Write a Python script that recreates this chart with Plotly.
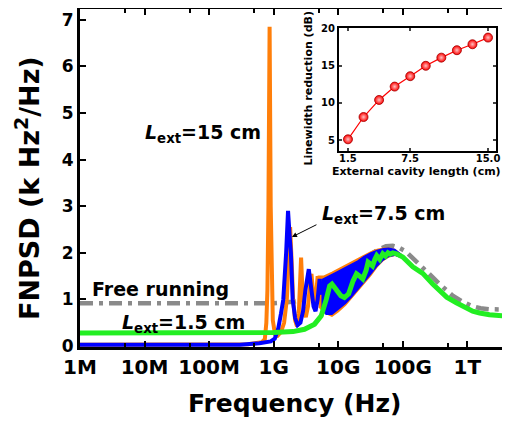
import plotly.graph_objects as go
import math

# ---------------- data ----------------
# Free running (gray dash-dot)
gray_f = [1e6, 1e9, 2e9, 4e9, 7e9, 10e9, 15e9, 20e9, 30e9, 40e9, 55e9, 70e9, 90e9,
          111e9, 164e9, 235e9, 373e9, 593e9, 846e9, 1.16e12, 1.6e12, 2.2e12, 4.3e12]
gray_v = [0.92, 0.92, 0.95, 1.03, 1.2, 1.35, 1.55, 1.7, 1.93, 2.06, 2.14, 2.15, 2.1,
          2.03, 1.82, 1.6, 1.33, 1.08, 0.95, 0.86, 0.81, 0.79, 0.78]

# L_ext = 15 cm (orange): resolved peaks
orange_f = [1e6, 1e8, 4e8, 6.5e8, 0.73e9, 0.77e9, 0.80e9, 0.83e9, 0.865e9, 0.90e9, 0.93e9,
            0.97e9, 1.05e9, 1.15e9, 1.3e9, 1.45e9, 1.6e9, 1.7e9, 1.8e9, 1.9e9, 2.0e9,
            2.15e9, 2.3e9, 2.45e9, 2.55e9, 2.66e9, 2.78e9, 2.95e9, 3.15e9, 3.4e9, 3.65e9,
            3.85e9, 4.05e9, 4.3e9, 4.55e9, 4.8e9, 5.1e9, 5.4e9]
orange_v = [0.03, 0.03, 0.04, 0.08, 0.15, 0.5, 1.2, 3.0, 6.85, 3.0, 1.2,
            0.55, 0.25, 0.22, 0.3, 0.5, 1.0, 1.8, 2.55, 1.8, 1.0,
            0.55, 0.42, 0.7, 1.2, 1.9, 1.25, 0.75, 0.62, 0.85, 1.3,
            1.55, 1.2, 0.85, 1.1, 1.5, 1.1, 0.9]
# L_ext = 15 cm dense oscillation envelope
orange_up_f = [4.8e9, 6e9, 8e9, 11e9, 15e9, 20e9, 25e9, 32e9, 40e9, 50e9, 60e9, 75e9, 95e9]
orange_up_v = [1.5, 1.5, 1.58, 1.68, 1.78, 1.87, 1.95, 2.02, 2.07, 2.1, 2.1, 2.07, 1.96]
orange_lo_f = [5e9, 6e9, 8e9, 10e9, 13e9, 16e9, 20e9, 25e9, 32e9, 40e9, 50e9, 60e9, 75e9, 95e9]
orange_lo_v = [0.85, 0.72, 0.64, 0.74, 0.88, 1.01, 1.18, 1.34, 1.52, 1.7, 1.84, 1.91, 1.95, 1.9]

# L_ext = 7.5 cm (blue): resolved peaks
blue_f = [1e6, 3e8, 6e8, 0.9e9, 1.04e9, 1.17e9, 1.3e9, 1.41e9, 1.56e9, 1.67e9, 1.78e9,
          1.85e9, 1.97e9, 2.15e9, 2.35e9, 2.6e9, 2.85e9, 3.1e9, 3.5e9, 3.85e9, 4.15e9,
          4.45e9, 4.8e9, 5.15e9, 5.5e9]
blue_v = [0.03, 0.03, 0.06, 0.1, 0.16, 0.36, 0.7, 1.0, 2.0, 2.9, 2.3,
          2.0, 1.0, 0.6, 0.45, 0.5, 0.75, 1.2, 1.65, 1.2, 0.85,
          0.75, 1.0, 1.44, 1.1]
# L_ext = 7.5 cm dense oscillation envelope
blue_up_f = [5.5e9, 7e9, 9e9, 12e9, 15e9, 20e9, 25e9, 32e9, 40e9, 50e9, 60e9, 75e9, 95e9]
blue_up_v = [1.42, 1.5, 1.57, 1.66, 1.73, 1.82, 1.92, 2.0, 2.05, 2.09, 2.1, 2.07, 1.96]
blue_lo_f = [5.5e9, 6.5e9, 8e9, 10e9, 13e9, 16e9, 20e9, 25e9, 32e9, 40e9, 50e9, 60e9, 75e9, 95e9]
blue_lo_v = [0.8, 0.68, 0.68, 0.78, 0.92, 1.05, 1.22, 1.37, 1.55, 1.72, 1.85, 1.92, 1.95, 1.9]

# L_ext = 1.5 cm (green)
green_f = [1e6, 1e8, 1e9, 2e9, 3e9, 4.3e9, 5.46e9, 6.53e9, 7.37e9, 8e9, 9.5e9, 11e9, 12.5e9,
           14.5e9, 17e9, 19.2e9, 21.5e9, 24e9, 27e9, 29e9, 31.5e9, 34e9, 37e9, 39.5e9,
           44e9, 49e9, 54e9, 59e9, 64e9, 70e9, 80e9, 100e9, 143e9, 204e9, 291e9, 373e9,
           479e9, 676e9, 846e9, 1.21e12, 1.55e12, 2.2e12, 4.3e12]
green_v = [0.28, 0.28, 0.29, 0.31, 0.36, 0.47, 0.65, 1.0, 1.29, 1.33, 1.2, 1.08, 1.04,
           1.12, 1.4, 1.55, 1.5, 1.44, 1.62, 1.8, 1.76, 1.72, 1.86, 1.94,
           1.86, 1.98, 1.93, 2.0, 1.97, 2.0, 1.98, 1.91, 1.7, 1.56, 1.33, 1.2,
           1.05, 0.93, 0.85, 0.75, 0.71, 0.67, 0.64]

# Inset: linewidth reduction vs external cavity length
inset_len = [1.5, 3.0, 4.5, 6.0, 7.5, 9.0, 10.5, 12.0, 13.5, 15.0]
inset_red = [5.1, 8.1, 10.4, 12.2, 13.6, 15.0, 16.1, 17.1, 17.9, 18.8]

x_tickvals = [1e6, 1e7, 1e8, 1e9, 1e10, 1e11, 1e12]
x_ticktext = ["1M", "10M", "100M", "1G", "10G", "100G", "1T"]
x_minor = [5e6, 5e7, 5e8, 5e9, 5e10, 5e11, 5e12]
y_tickvals = [0, 1, 2, 3, 4, 5, 6, 7]
inset_xticks = [1.5, 7.5, 15.0]
inset_xtext = ["1.5", "7.5", "15.0"]
inset_yticks = [5, 10, 15, 20]

# ---------------- colours ----------------
GRAY = "#8a8a8a"
ORANGE = "#FF7F0A"
BLUE = "#0000FF"
GREEN = "#22EE22"
RED = "#FF0000"
FONT = "DejaVu Sans"

fig = go.Figure()

fig.add_trace(go.Scatter(x=gray_f, y=gray_v, mode="lines",
                         line=dict(color=GRAY, width=4.5, dash="13px,6px,4px,6px"),
                         hoverinfo="skip"))

# orange band + line
fig.add_trace(go.Scatter(x=orange_up_f + orange_lo_f[::-1], y=orange_up_v + orange_lo_v[::-1],
                         mode="lines", fill="toself", fillcolor=ORANGE,
                         line=dict(color=ORANGE, width=1.5), hoverinfo="skip"))
fig.add_trace(go.Scatter(x=orange_f, y=orange_v, mode="lines",
                         line=dict(color=ORANGE, width=4), hoverinfo="skip"))

# blue band + line
fig.add_trace(go.Scatter(x=blue_up_f + blue_lo_f[::-1], y=blue_up_v + blue_lo_v[::-1],
                         mode="lines", fill="toself", fillcolor=BLUE,
                         line=dict(color=BLUE, width=1.5), hoverinfo="skip"))
fig.add_trace(go.Scatter(x=blue_f, y=blue_v, mode="lines",
                         line=dict(color=BLUE, width=4), hoverinfo="skip"))

# green
fig.add_trace(go.Scatter(x=green_f, y=green_v, mode="lines",
                         line=dict(color=GREEN, width=5), hoverinfo="skip"))

# inset
fig.add_trace(go.Scatter(x=inset_len, y=inset_red, mode="lines+markers", xaxis="x2", yaxis="y2",
                         line=dict(color=RED, width=1.2),
                         marker=dict(size=9, color=RED, line=dict(color="#A00000", width=0.8),
                                     gradient=dict(type="radial", color="#FFC0C0")),
                         hoverinfo="skip"))

axis_common = dict(showline=True, linewidth=3, linecolor="black", mirror="ticks",
                   ticks="inside", tickwidth=2, tickcolor="black", showgrid=False,
                   zeroline=False, automargin=False)

inset_common = dict(showline=True, linewidth=2, linecolor="black", mirror="ticks",
                    ticks="inside", ticklen=3, tickwidth=1.5, showgrid=False, zeroline=False,
                    automargin=False,
                    tickfont=dict(family=FONT, size=10, color="black", weight="bold"))

# the page shows the figure offset by the default 8px body margin, so the
# margins below are shifted accordingly
fig.update_layout(
    width=510, height=424,
    margin=dict(l=72, r=10, t=1, b=85, autoexpand=False),
    paper_bgcolor="white", plot_bgcolor="white",
    showlegend=False,
    xaxis=dict(type="log", range=[6, 12.63], tickmode="array", tickvals=x_tickvals,
               ticktext=x_ticktext, ticklen=6,
               minor=dict(tickmode="array", tickvals=x_minor, ticks="inside", ticklen=4,
                          tickwidth=2, tickcolor="black"),
               tickfont=dict(family=FONT, size=20, color="black", weight="bold"),
               **axis_common),
    yaxis=dict(range=[-0.02, 7.23], tickmode="array", tickvals=y_tickvals, ticklen=6,
               tickfont=dict(family=FONT, size=17, color="black", weight="bold"),
               **axis_common),
    xaxis2=dict(domain=[0.605, 0.972], anchor="y2", range=[0.63, 15.77],
                tickmode="array", tickvals=inset_xticks, ticktext=inset_xtext,
                ticklabelstandoff=-3, **inset_common),
    yaxis2=dict(domain=[0.580, 0.944], anchor="x2", range=[3.53, 20.1],
                tickmode="array", tickvals=inset_yticks, **inset_common),
)

def lab(text, x, y, size=19, **kw):
    fig.add_annotation(text=text, x=x, y=y, showarrow=False,
                       font=dict(family=FONT, size=size, color="black", weight="bold"), **kw)

# axis titles
lab("FNPSD (k Hz<sup>2</sup>/Hz)", -0.124, 0.47, size=27, xref="paper", yref="paper",
    textangle=-90, xanchor="center", yanchor="middle")
lab("Frequency (Hz)", 0.5, -0.168, size=25, xref="paper", yref="paper",
    xanchor="center", yanchor="middle")
# inset titles
lab("External cavity length (cm)", 0.787, 0.518, size=11, xref="paper", yref="paper",
    xanchor="center", yanchor="middle")
lab("Linewidth reduction (dB)", 0.533, 0.765, size=11, xref="paper", yref="paper",
    textangle=-90, xanchor="center", yanchor="middle")

# curve labels (x in log10 units on the log axis)
lab("<i>L</i><sub>ext</sub>=15 cm", 6.981, 4.55, xanchor="left", yanchor="middle")
lab("<i>L</i><sub>ext</sub>=7.5 cm", 9.716, 2.82, xanchor="left", yanchor="middle")
lab("Free running", 6.162, 1.22, xanchor="left", yanchor="middle")
lab("<i>L</i><sub>ext</sub>=1.5 cm", 6.626, 0.48, xanchor="left", yanchor="middle")

# arrow to the 7.5 cm curve
fig.add_annotation(x=math.log10(1.92e9), y=2.34, ax=26, ay=-13, text="", showarrow=True,
                   arrowhead=2, arrowsize=1, arrowwidth=1, arrowcolor="black")

fig.write_html("out.html")
